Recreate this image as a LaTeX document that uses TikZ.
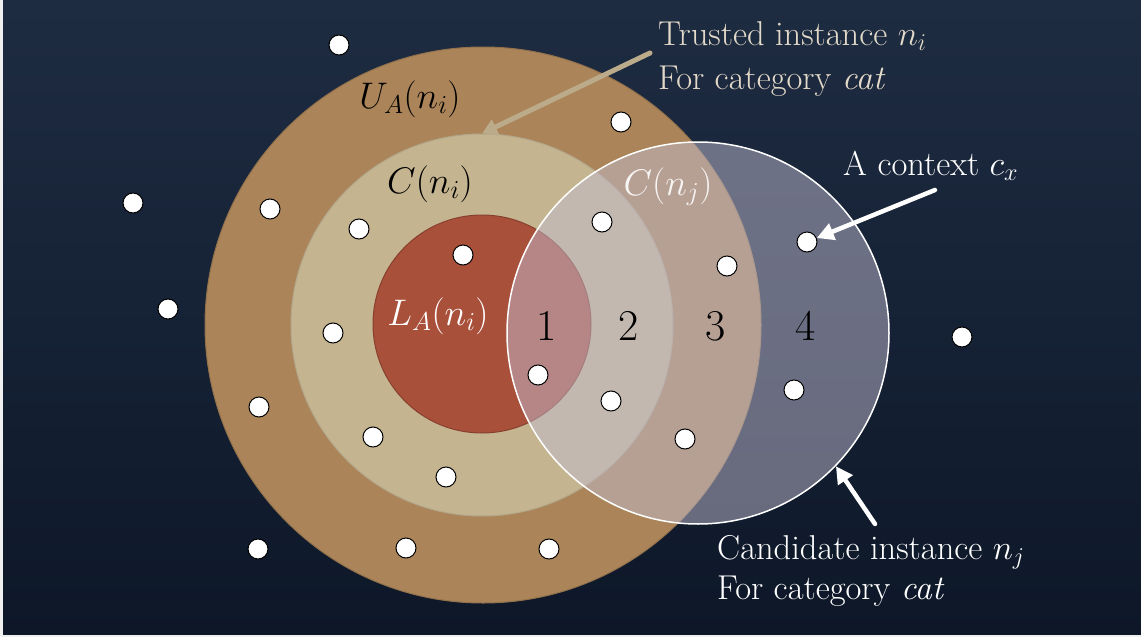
\RequirePackage{fix-cm}
\documentclass[tikz,border=0pt]{standalone}
\usetikzlibrary{arrows.meta}
\definecolor{bgtop}{RGB}{30,44,66}
\definecolor{bgbot}{RGB}{13,23,40}
\definecolor{brownring}{RGB}{171,133,89}
\definecolor{tanring}{RGB}{196,180,143}
\definecolor{redcore}{RGB}{169,80,58}
\definecolor{candfill}{RGB}{193,188,208}
\definecolor{trustcol}{RGB}{187,171,138}
\definecolor{trusttext}{RGB}{226,217,200}
\tikzset{
  ring/.style={circle, inner sep=0pt, line width=1pt},
  dot/.style={circle, fill=white, draw=black, line width=1pt, minimum size=20pt, inner sep=0pt},
  mathlbl/.style={anchor=base, inner sep=0pt, font=\fontsize{37}{42}\selectfont},
  numlbl/.style={anchor=base, inner sep=0pt, text=black, font=\fontsize{44}{50}\selectfont},
  textlbl/.style={anchor=base west, inner sep=0pt, font=\fontsize{34.5}{40}\selectfont},
  trustarrow/.style={draw=trustcol, line width=5pt, line cap=round, -{Triangle[length=15pt,width=16pt]}},
  whitearrow/.style={draw=white, line width=4.5pt, line cap=round, -{Triangle[length=17pt,width=17pt]}}
}
\begin{document}
\begin{tikzpicture}[x=1pt,y=-1pt]
\fill[white!88!gray] (0,0) rectangle (1141,637);
\shade[top color=bgtop,bottom color=bgbot] (3,0) rectangle (1141,634);
\useasboundingbox (0,0) rectangle (1141,637);

% rings
\node[ring, fill=brownring, draw=brownring!85!black, minimum size=556pt] (U) at (483,325) {};
\node[ring, fill=tanring, draw=tanring!75!gray, minimum size=382pt] (C) at (482,325) {};
\node[ring, fill=redcore, draw=redcore!80!black, minimum size=218pt] (L) at (482,324) {};
\node[ring, fill=candfill, fill opacity=0.5, draw=white, line width=1.5pt, minimum size=382pt] (R) at (698,333) {};

% dots
\node[dot] (d1) at (339,45) {};
\node[dot] (d2) at (621,122) {};
\node[dot] (d3) at (133,203) {};
\node[dot] (d4) at (270,209) {};
\node[dot] (d5) at (359,229) {};
\node[dot] (d6) at (602,222) {};
\node[dot] (d7) at (463,255) {};
\node[dot] (d8) at (807,242) {};
\node[dot] (d9) at (727,266) {};
\node[dot] (d10) at (168,309) {};
\node[dot] (d11) at (333,333) {};
\node[dot] (d12) at (962,337) {};
\node[dot] (d13) at (538,375) {};
\node[dot] (d14) at (794,390) {};
\node[dot] (d15) at (611,401) {};
\node[dot] (d16) at (259,407) {};
\node[dot] (d17) at (373,437) {};
\node[dot] (d18) at (685,439) {};
\node[dot] (d19) at (446,477) {};
\node[dot] (d20) at (258,549) {};
\node[dot] (d21) at (406,548) {};
\node[dot] (d22) at (549,549) {};

% region labels
\node[mathlbl, text=black] (lu) at (410,108) {$U_A(n_i)$};
\node[mathlbl, text=black] (lc) at (430,193) {$C(n_i)$};
\node[mathlbl, text=white, text opacity=0.9] (lcj) at (668,195) {$C(n_j)$};
\node[mathlbl, text=white] (ll) at (438,325) {$L_A(n_i)$};
\node[numlbl] (n1) at (547,340) {1};
\node[numlbl] (n2) at (629,340) {2};
\node[numlbl] (n3) at (716,340) {3};
\node[numlbl] (n4) at (806,340) {4};

% callout texts
\node[textlbl, text=trusttext] (t1) at (658,45) {Trusted instance $n_i$};
\node[textlbl, text=trusttext] (t2) at (658,89) {For category \textit{cat}};
\node[textlbl, text=white] (cx) at (843,175) {A context $c_x$};
\node[textlbl, text=white] (k1) at (717,559) {Candidate instance $n_j$};
\node[textlbl, text=white] (k2) at (717,599) {For category \textit{cat}};

% arrows
\coordinate (tstart) at (650,53);
\coordinate (cstart) at (935,190);
\coordinate (kstart) at (875,524);
\draw[trustarrow] (tstart) -- (C.north);
\draw[whitearrow] (cstart) -- (d8);
\draw[whitearrow] (kstart) -- (R.-44);
\end{tikzpicture}
\end{document}
